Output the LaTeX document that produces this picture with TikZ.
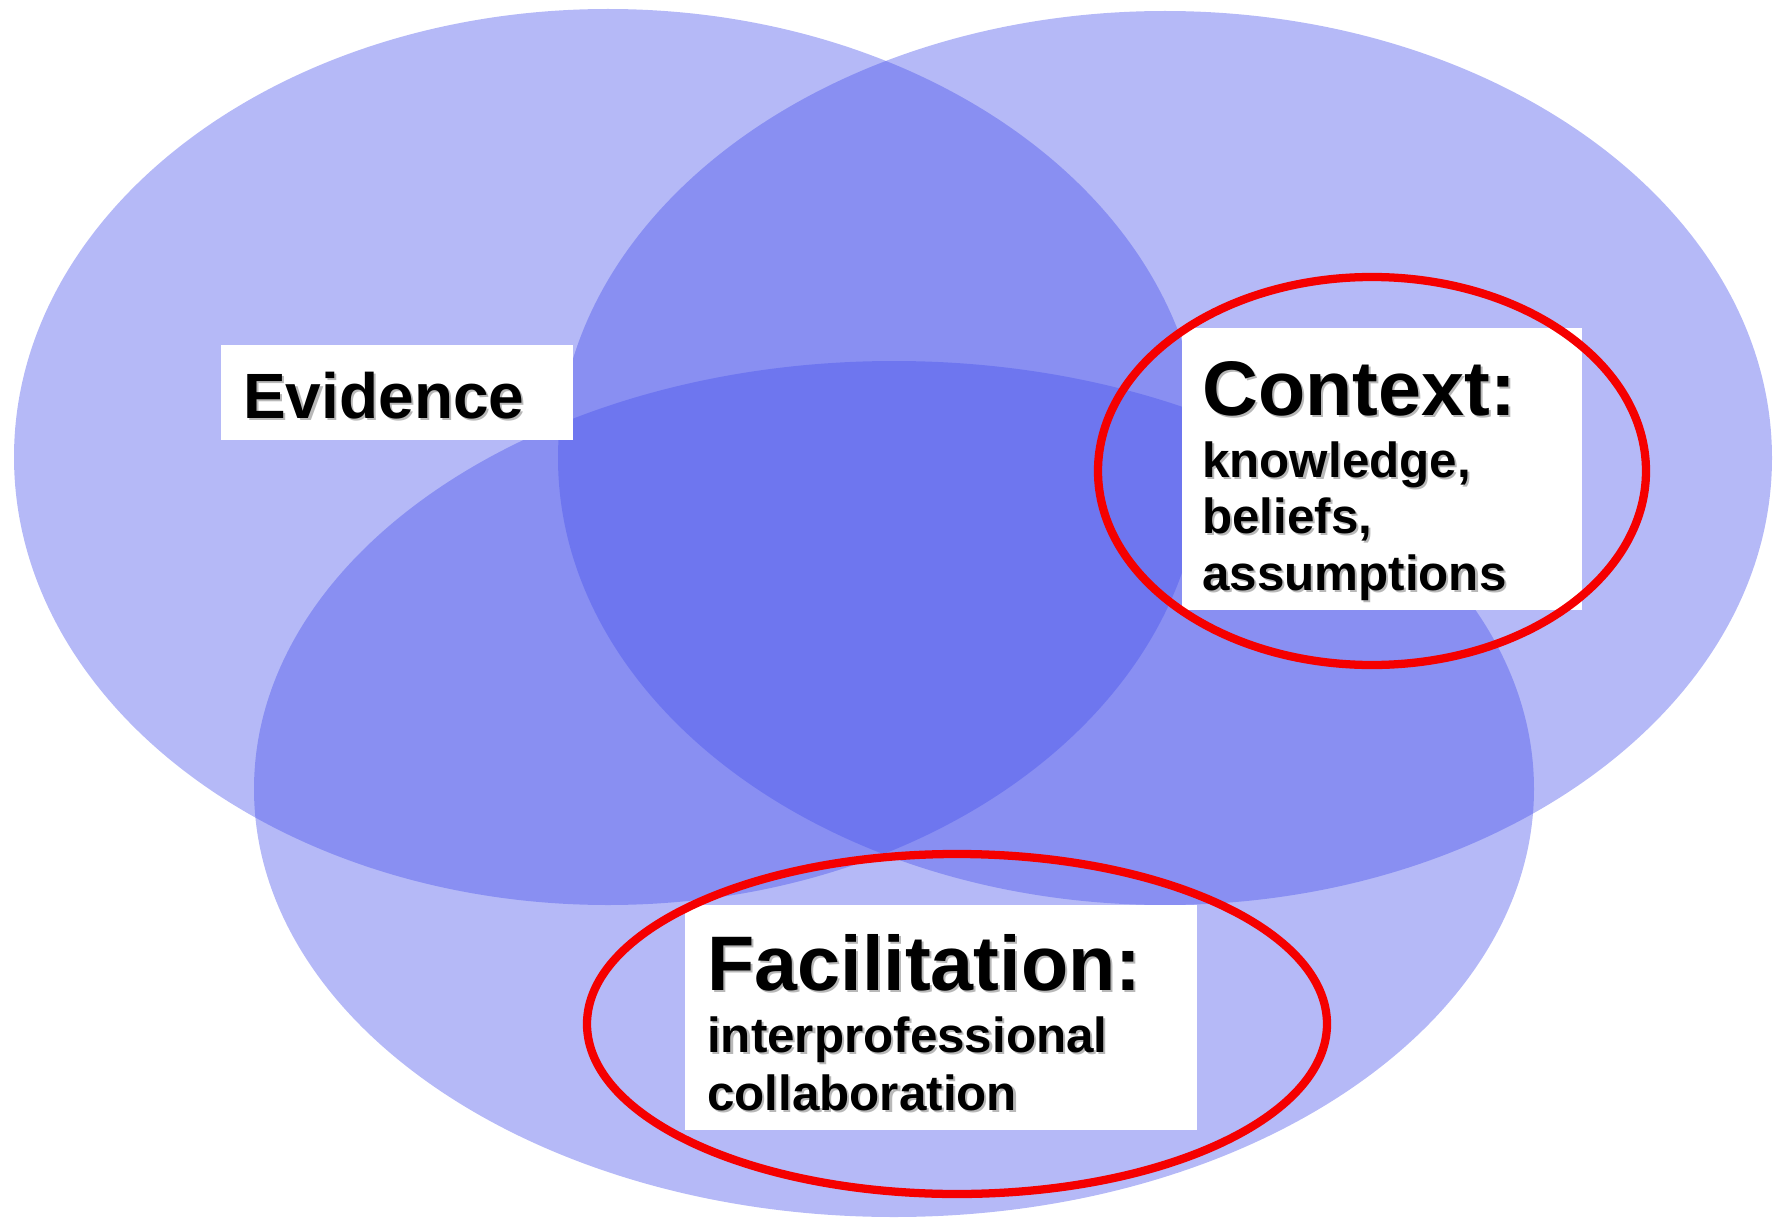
\documentclass[tikz,border=0pt]{standalone}
\usepackage{xcolor}
\usepackage{fontspec}
\setmainfont{Liberation Sans}
\usepackage{tikz}

\definecolor{venn}{RGB}{70,80,235}
\definecolor{ring}{RGB}{245,0,0}
\newcommand{\shadowed}[1]{\rlap{\kern1.6pt\raisebox{-1.6pt}{\textcolor{black!28}{#1}}}#1}

\begin{document}
\begin{tikzpicture}[x=0.75pt,y=0.75pt,yscale=-1,xscale=1]
\useasboundingbox (0,0) rectangle (1775,1220);

%Shape: Ellipse [id:evidence]
\draw [draw=none, fill=venn, fill opacity=0.4] (608,457) ellipse (594 and 448);
%Shape: Ellipse [id:context]
\draw [draw=none, fill=venn, fill opacity=0.4] (1165,458) ellipse (607 and 447);
%Shape: Ellipse [id:facilitation]
\draw [draw=none, fill=venn, fill opacity=0.4] (894,789) ellipse (640 and 428);

%Shape: Rectangle [id:boxes]
\draw [draw=none, fill=white] (221,345) rectangle (573,440);
\draw [draw=none, fill=white] (1182,328) rectangle (1582,610);
\draw [draw=none, fill=white] (685,905) rectangle (1197,1130);

%Shape: Ellipse [id:rings]
\draw [color=ring, line width=6.2] (1372,471) ellipse (274 and 194);
\draw [color=ring, line width=6.2] (957,1024) ellipse (370 and 170);

% Text Node
\draw (243,418) node (evidence) [anchor=base west][inner sep=0pt] {\fontsize{48}{48}\selectfont\bfseries\shadowed{Evidence}};
% Text Node
\draw (1202,415) node (context) [anchor=base west][inner sep=0pt] {\fontsize{58}{58}\selectfont\bfseries\shadowed{Context:}};
\draw (1202,477) node (knowledge) [anchor=base west][inner sep=0pt] {\fontsize{37}{37}\selectfont\bfseries\shadowed{knowledge,}};
\draw (1202,533) node (beliefs) [anchor=base west][inner sep=0pt] {\fontsize{37}{37}\selectfont\bfseries\shadowed{beliefs,}};
\draw (1202,590) node (assumptions) [anchor=base west][inner sep=0pt] {\fontsize{37}{37}\selectfont\bfseries\shadowed{assumptions}};
% Text Node
\draw (707,990) node (facilitation) [anchor=base west][inner sep=0pt] {\fontsize{58}{58}\selectfont\bfseries\shadowed{Facilitation:}};
\draw (707,1052) node (interprof) [anchor=base west][inner sep=0pt] {\fontsize{37}{37}\selectfont\bfseries\shadowed{interprofessional}};
\draw (707,1110) node (collab) [anchor=base west][inner sep=0pt] {\fontsize{37}{37}\selectfont\bfseries\shadowed{collaboration}};

\end{tikzpicture}
\end{document}
